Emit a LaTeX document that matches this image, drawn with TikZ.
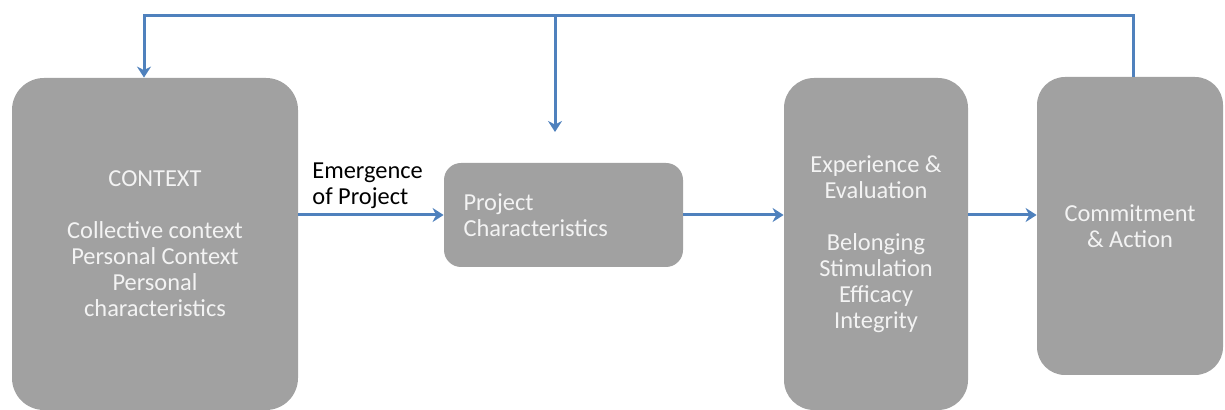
\documentclass[tikz,border=0pt]{standalone}
\usepackage{fontspec}
\setmainfont{Carlito}
\usetikzlibrary{arrows.meta}
\definecolor{boxgray}{RGB}{161,161,161}
\definecolor{boxtext}{RGB}{243,243,243}
\definecolor{flowblue}{RGB}{79,129,189}

\begin{document}
\begin{tikzpicture}[x=0.5pt, y=-0.5pt,
  stage/.style={fill=boxgray, text=boxtext, align=center, inner sep=0pt,
    font=\fontsize{12.2}{13}\selectfont},
  flow/.style={draw=flowblue, line width=1.5pt, -{Stealth[length=5.5pt, width=7pt]}}]
\useasboundingbox (0,0) rectangle (1225,410);
\node[stage, rounded corners=16pt, minimum width=143pt, minimum height=166pt] (ctx) at (155,244)
  {CONTEXT\\[13pt]Collective context\\Personal Context\\Personal\\characteristics};
\node[stage, rounded corners=8.5pt, minimum width=119.5pt, minimum height=52pt,
  text width=100pt, align=left] (prj) at (563.5,215) {Project\\Characteristics};
\node[stage, rounded corners=15pt, minimum width=92pt, minimum height=166pt] (exp) at (876,244)
  {Experience \&\\Evaluation\\[13pt]Belonging\\Stimulation\\Efficacy\\Integrity};
\node[stage, rounded corners=14pt, minimum width=93pt, minimum height=149pt] (com) at (1130,226)
  {Commitment\\\& Action};
\node[align=left, inner sep=0pt, font=\fontsize{12.2}{13}\selectfont, anchor=west] (emerg) at (312,186)
  {Emergence\\of Project};
\coordinate (fbR) at (1133,16);
\coordinate (fbL) at (144,16);
\coordinate (fbM) at (555,16);
\coordinate (fbTip) at (555,132);
\draw[flow] (ctx.east |- prj.west) -- (prj.west);
\draw[flow] (prj.east) -- (prj.east -| exp.west);
\draw[flow] (exp.east |- prj.east) -- (prj.east -| com.west);
\draw[flow] (com.north -| fbR) -- (fbR) -- (fbL) -- (fbL |- ctx.north);
\draw[flow] (fbM) -- (fbTip);
\end{tikzpicture}
\end{document}
